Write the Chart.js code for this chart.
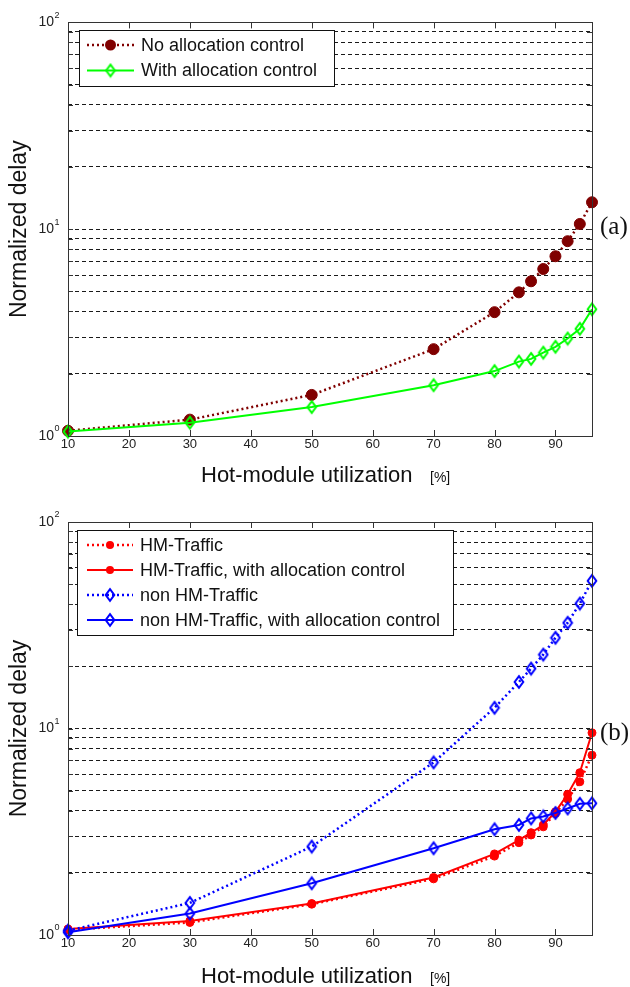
<!DOCTYPE html>
<html><head><meta charset="utf-8">
<script src="https://cdn.jsdelivr.net/npm/chart.js@4.4.0/dist/chart.umd.min.js"></script>
<style>
html,body{margin:0;padding:0;background:#fff;}
#wrap{position:relative;width:630px;height:987px;overflow:hidden;background:#fff;}
canvas{position:absolute;left:0;}
</style></head><body>
<div id="wrap">
<canvas id="c1" width="630" height="493" style="top:0px"></canvas>
<canvas id="c2" width="630" height="494" style="top:493px"></canvas>
</div>
<script>
// ---------- data ----------
const utilization = [10, 30, 50, 70, 80, 84, 86, 88, 90, 92, 94, 96];
const xTickValues = [10, 20, 30, 40, 50, 60, 70, 80, 90];
const yTickValues = [1,2,3,4,5,6,7,8,9,10,20,30,40,50,60,70,80,90,100];
const yDecades = [1, 10, 100];
const yExponents = ['0', '1', '2'];

// (a)
const noAllocationControl   = [1.06, 1.20, 1.58, 2.63, 3.97, 4.95, 5.60, 6.42, 7.40, 8.75, 10.6, 13.5];
const withAllocationControl = [1.05, 1.16, 1.38, 1.76, 2.06, 2.29, 2.36, 2.53, 2.70, 2.96, 3.30, 4.10];
const labelsA = ['No allocation control', 'With allocation control'];

// (b)
const hmTraffic           = [1.06, 1.15, 1.41, 1.87, 2.41, 2.80, 3.05, 3.34, 3.88, 4.55, 5.52, 7.43];
const hmTrafficControl    = [1.07, 1.17, 1.42, 1.90, 2.47, 2.88, 3.13, 3.41, 3.95, 4.80, 6.11, 9.53];
const nonHmTraffic        = [1.05, 1.43, 2.68, 6.85, 12.6, 16.8, 19.5, 22.8, 27.5, 32.5, 40.3, 51.9];
const nonHmTrafficControl = [1.03, 1.27, 1.78, 2.63, 3.25, 3.41, 3.67, 3.75, 3.90, 4.10, 4.32, 4.34];
const labelsB = ['HM-Traffic', 'HM-Traffic, with allocation control', 'non HM-Traffic', 'non HM-Traffic, with allocation control'];

const xTitle = 'Hot-module utilization';
const xUnit = '[%]';
const yTitle = 'Normalized delay';

// ---------- styling helpers ----------
const SANS = '"Liberation Sans", Arial, Helvetica, sans-serif';
const SERIF = '"Liberation Serif", "Times New Roman", serif';

function diamond(color) {
  const c = document.createElement('canvas');
  c.width = 12; c.height = 16;
  const g = c.getContext('2d');
  g.strokeStyle = color; g.lineWidth = 2;
  g.beginPath();
  g.moveTo(6, 2.2); g.lineTo(10.3, 8); g.lineTo(6, 13.8); g.lineTo(1.7, 8);
  g.closePath(); g.stroke();
  return c;
}

function lineDs(label, data, color, dotted, marker, radius, order) {
  return {
    label, data: data.map((v, i) => ({x: utilization[i], y: v})),
    borderColor: color, backgroundColor: color,
    borderWidth: dotted ? 2.5 : 2,
    borderDash: dotted ? [2, 3] : [],
    pointStyle: marker === 'diamond' ? diamond(color) : 'circle',
    pointRadius: radius, pointHoverRadius: radius,
    pointBackgroundColor: color, pointBorderColor: color, pointBorderWidth: 1,
    tension: 0, clip: false, order
  };
}

const boxPlugin = {
  id: 'boxPlugin',
  afterDraw(chart) {
    const {ctx, chartArea: a} = chart;
    const xs = chart.scales.x, ys = chart.scales.y;
    ctx.save();
    ctx.strokeStyle = '#333'; ctx.lineWidth = 1; ctx.setLineDash([]);
    ctx.beginPath();
    xTickValues.forEach(v => {
      if (v === 10) return;
      const px = Math.round(xs.getPixelForValue(v)) + 0.5;
      ctx.moveTo(px, a.bottom); ctx.lineTo(px, a.bottom - 6);
      ctx.moveTo(px, a.top); ctx.lineTo(px, a.top + 6);
    });
    yTickValues.forEach(v => {
      if (v === 1 || v === 100) return;
      const py = Math.round(ys.getPixelForValue(v)) + 0.5;
      ctx.moveTo(a.left, py); ctx.lineTo(a.left + 5, py);
      ctx.moveTo(a.right, py); ctx.lineTo(a.right - 5, py);
    });
    ctx.stroke();
    ctx.strokeRect(Math.round(a.left) + 0.5, Math.round(a.top) + 0.5, Math.round(a.right - a.left), Math.round(a.bottom - a.top));
    // exponents of the decade labels
    ctx.fillStyle = '#222';
    ctx.font = '9px ' + SANS;
    ctx.textAlign = 'left'; ctx.textBaseline = 'middle';
    yDecades.forEach((v, i) => {
      const py = ys.getPixelForValue(v);
      ctx.fillText(yExponents[i], a.left - 13.5, py - 7);
    });
    ctx.restore();
  }
};

const legendPlugin = {
  id: 'insideLegend',
  afterDraw(chart, args, o) {
    const ctx = chart.ctx;
    ctx.save();
    ctx.fillStyle = '#fff';
    ctx.fillRect(o.x, o.y, o.w, o.h);
    ctx.strokeStyle = '#111'; ctx.lineWidth = 1; ctx.setLineDash([]);
    ctx.strokeRect(o.x + 0.5, o.y + 0.5, o.w, o.h);
    chart.data.datasets.forEach((ds, i) => {
      const cy = o.firstRow + i * o.rowH;
      ctx.strokeStyle = ds.borderColor; ctx.lineWidth = ds.borderWidth;
      ctx.setLineDash(ds.borderDash || []);
      ctx.beginPath(); ctx.moveTo(o.x0, cy); ctx.lineTo(o.x1, cy); ctx.stroke();
      ctx.setLineDash([]);
      const mx = (o.x0 + o.x1) / 2;
      if (ds.pointStyle instanceof HTMLCanvasElement) {
        ctx.drawImage(ds.pointStyle, mx - ds.pointStyle.width / 2, cy - ds.pointStyle.height / 2);
      } else {
        ctx.fillStyle = ds.pointBackgroundColor;
        ctx.beginPath(); ctx.arc(mx, cy, ds.pointRadius, 0, Math.PI * 2); ctx.fill();
      }
      ctx.fillStyle = '#111';
      ctx.font = '18px ' + SANS;
      ctx.textBaseline = 'middle'; ctx.textAlign = 'left';
      ctx.fillText(ds.label, o.textX, cy + 1);
    });
    ctx.restore();
  }
};

const textPlugin = {
  id: 'extraText',
  afterDraw(chart, args, o) {
    const ctx = chart.ctx;
    ctx.save();
    ctx.fillStyle = '#111';
    ctx.textAlign = 'left'; ctx.textBaseline = 'alphabetic';
    ctx.font = '22px ' + SANS;
    ctx.fillText(xTitle, 201, o.titleBase);
    ctx.font = '14px ' + SANS;
    ctx.fillText(xUnit, 430, o.titleBase);
    ctx.font = '25px ' + SERIF;
    ctx.textBaseline = 'middle';
    ctx.fillText(o.tag, 600, o.tagY);
    ctx.restore();
  }
};

function makeChart(id, canvasH, plotTop, plotBottom, datasets, legendOpts, textOpts) {
  return new Chart(document.getElementById(id), {
    type: 'line',
    data: {datasets},
    options: {
      responsive: false, animation: false, devicePixelRatio: 1,
      layout: {padding: {left: 0, right: 38, top: plotTop, bottom: 0}},
      plugins: {
        legend: {display: false}, tooltip: {enabled: false},
        insideLegend: legendOpts, extraText: textOpts
      },
      scales: {
        x: {
          type: 'linear', min: 10, max: 96,
          afterBuildTicks: s => { s.ticks = xTickValues.map(v => ({value: v})); },
          afterFit: s => { s.height = canvasH - plotBottom; },
          grid: {display: false, drawTicks: false, tickLength: 0},
          border: {display: false},
          ticks: {autoSkip: false, maxRotation: 0, padding: 1, color: '#222',
                  font: {family: SANS, size: 13}, callback: v => String(v)}
        },
        y: {
          type: 'logarithmic', min: 1, max: 100,
          afterBuildTicks: s => { s.ticks = yTickValues.map(v => ({value: v, major: yDecades.includes(v)})); },
          afterFit: s => { s.width = 68; },
          grid: {
            drawTicks: false, tickLength: 0, lineWidth: 1,
            color: c => (c.tick && (c.tick.value === 1 || c.tick.value === 100)) ? 'rgba(0,0,0,0)' : '#1a1a1a'
          },
          border: {display: false, dash: [4, 3]},
          ticks: {autoSkip: false, padding: 14, color: '#222',
                  font: {family: SANS, size: 14},
                  callback: v => yDecades.includes(v) ? '10' : ''},
          title: {display: true, text: yTitle, color: '#111',
                  font: {family: SANS, size: 23}, padding: {top: 6, bottom: 0}}
        }
      }
    },
    plugins: [boxPlugin, legendPlugin, textPlugin]
  });
}

makeChart('c1', 493, 22, 436, [
  lineDs(labelsA[0], noAllocationControl, '#800000', true, 'circle', 5.5, 2),
  lineDs(labelsA[1], withAllocationControl, '#00ff00', false, 'diamond', 5, 1)
], {x: 79, y: 30, w: 255, h: 56, firstRow: 45, rowH: 25.5, x0: 87, x1: 134, textX: 141},
   {titleBase: 482, tag: '(a)', tagY: 227});

makeChart('c2', 494, 29, 442, [
  lineDs(labelsB[0], hmTraffic, '#ff0000', true, 'circle', 4, 4),
  lineDs(labelsB[1], hmTrafficControl, '#ff0000', false, 'circle', 4, 3),
  lineDs(labelsB[2], nonHmTraffic, '#0000ff', true, 'diamond', 5, 2),
  lineDs(labelsB[3], nonHmTrafficControl, '#0000ff', false, 'diamond', 5, 1)
], {x: 77, y: 37, w: 376, h: 105, firstRow: 52, rowH: 25, x0: 87, x1: 133, textX: 140},
   {titleBase: 490, tag: '(b)', tagY: 240});
</script>
</body></html>
